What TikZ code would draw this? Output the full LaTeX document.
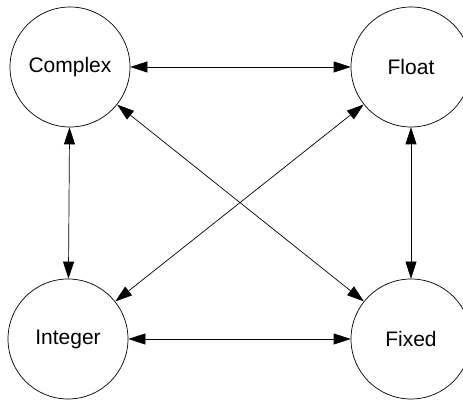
\documentclass[tikz,border=0pt]{standalone}
\usepackage{fontspec}
\setmainfont{Liberation Sans}
\usetikzlibrary{arrows.meta}
\begin{document}
\begin{tikzpicture}[x=1pt,y=1pt,
  state/.style={circle,draw,line width=0.7pt,minimum size=120pt,inner sep=0pt,font=\fontsize{21}{25}\selectfont},
  conn/.style={{Triangle[length=17pt,width=11pt]}-{Triangle[length=17pt,width=11pt]},line width=0.7pt}]
\useasboundingbox (0,0) rectangle (463,401);
\node[state] (complex) at (70,334) {Complex};
\node[state] (float) at (411,334) {Float};
\node[state] (integer) at (68,62) {Integer};
\node[state] (fixed) at (411,62) {Fixed};
\draw[conn] (complex) -- (float);
\draw[conn] (integer) -- (fixed);
\draw[conn] (complex) -- (integer);
\draw[conn] (float) -- (fixed);
\draw[conn] (complex) -- (fixed);
\draw[conn] (float) -- (integer);
\end{tikzpicture}
\end{document}
